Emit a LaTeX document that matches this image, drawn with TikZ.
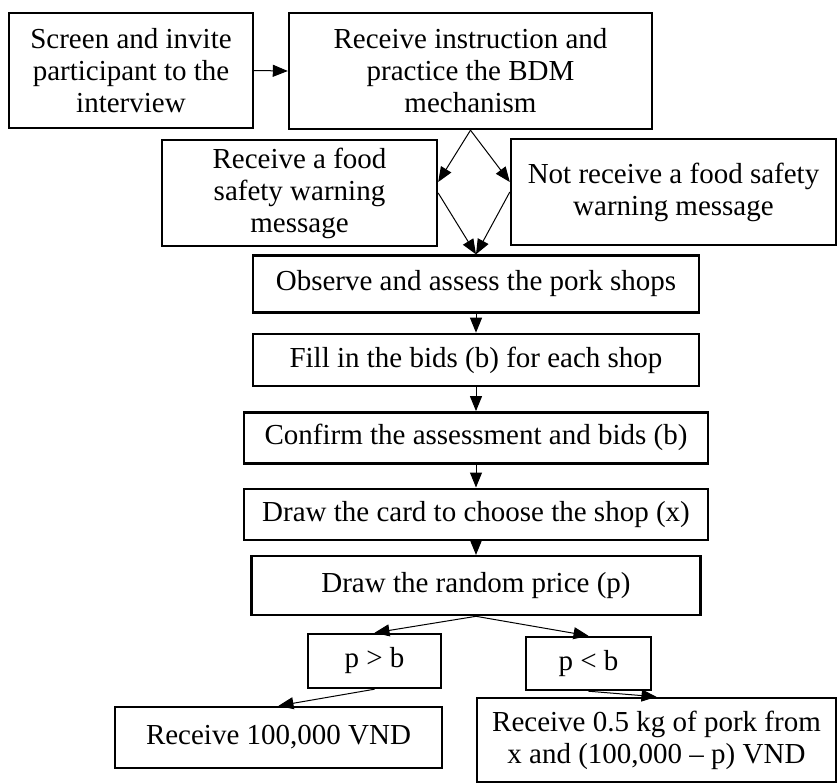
\documentclass[tikz,border=0pt]{standalone}
\usepackage{fontspec}
\setmainfont{Liberation Serif}
\usepackage{tikz}
\usetikzlibrary{arrows.meta,positioning}

\begin{document}
\begin{tikzpicture}[
    x=0.5pt, y=-0.5pt,
    font=\fontsize{14.5pt}{16pt}\selectfont,
    box/.style={draw, line width=1.2pt, align=center, inner sep=2pt},
    line/.style={->, >={Triangle[length=7.5pt,width=6pt]}, line width=0.5pt}
]
    \useasboundingbox (0,0) rectangle (837,783);

    \node[box, minimum width=122pt, minimum height=57.5pt] (screen) at (131,70.5)
        {Screen and invite\\participant to the\\interview};
    \node[box, minimum width=181.5pt, minimum height=58pt] (instruct) at (470.5,71)
        {Receive instruction and\\practice the BDM\\mechanism};
    \node[box, minimum width=137.5pt, minimum height=53pt] (warn) at (299.5,193)
        {Receive a food\\safety warning\\message};
    \node[box, minimum width=162.5pt, minimum height=53pt] (nowarn) at (673.5,192)
        {Not receive a food safety\\warning message};
    \node[box, minimum width=223pt, minimum height=28.5pt] (observe) at (476,284)
        {Observe and assess the pork shops};
    \node[box, minimum width=223pt, minimum height=26pt, below=9.5pt of observe] (bids)
        {Fill in the bids (b) for each shop};
    \node[box, minimum width=232pt, minimum height=25.5pt, below=12pt of bids] (confirm)
        {Confirm the assessment and bids (b)};
    \node[box, minimum width=232pt, minimum height=25.5pt, below=11.5pt of confirm] (card)
        {Draw the card to choose the shop (x)};
    \node[box, minimum width=224.5pt, minimum height=29.5pt, below=7pt of card] (price)
        {Draw the random price (p)};
    \node[box, minimum width=66.5pt, minimum height=27pt] (higher) at (374.5,661) {p > b};
    \node[box, minimum width=62.5pt, minimum height=26.5pt] (lower) at (588.5,663.5) {p < b};
    \node[box, minimum width=163.5pt, minimum height=30.5pt] (money) at (278.5,737.5)
        {Receive 100,000 VND};
    \node[box, minimum width=179.5pt, minimum height=42pt] (pork) at (656.5,740)
        {Receive 0.5 kg of pork from\\x and (100,000 \textendash{} p) VND};

    \draw[line] (screen.east) -- (instruct.west);
    \draw[line] (instruct.south) -- ([yshift=5.5pt]warn.east);
    \draw[line] (instruct.south) -- ([yshift=5pt]nowarn.west);
    \draw[line] (warn.east) -- (observe.north);
    \draw[line] (nowarn.west) -- (observe.north);
    \draw[line] (observe) -- (bids);
    \draw[line] (bids) -- (confirm);
    \draw[line] (confirm) -- (card);
    \draw[line] (card) -- (price);
    \draw[line] (price.south) -- (higher.north);
    \draw[line] (price.south) -- (lower.north);
    \draw[line] (higher.south) -- (money.north);
    \draw[line] (lower.south) -- (pork.north);
\end{tikzpicture}
\end{document}
